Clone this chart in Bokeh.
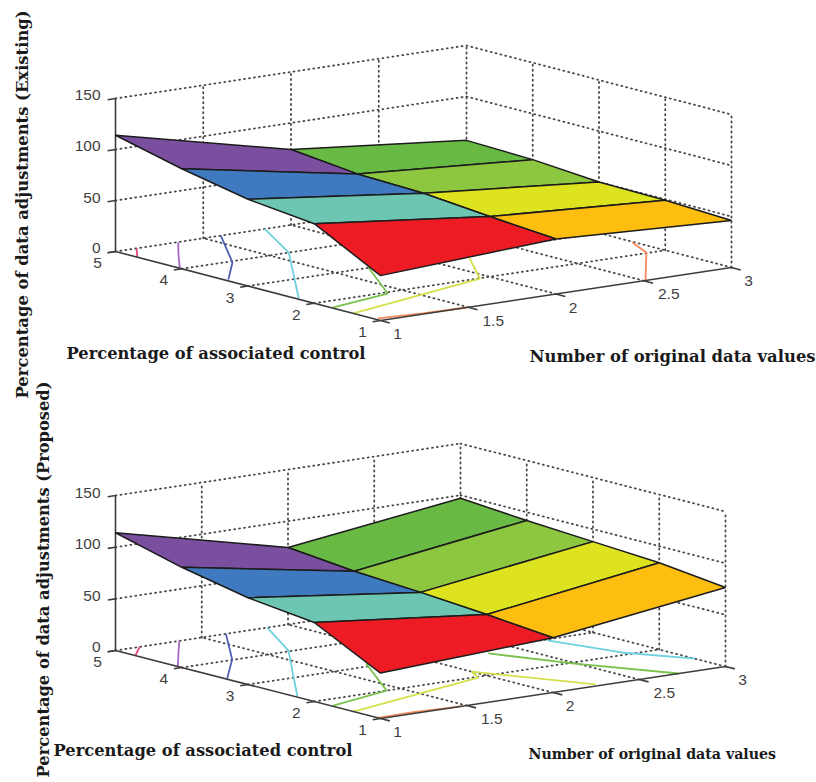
from bokeh.plotting import figure
from bokeh.models import Range1d
from bokeh.core.properties import value
from bokeh.embed import file_html
from bokeh.resources import INLINE

# ---------- data ----------
x_nodes = [1, 2, 3]
y_nodes = [5, 4, 3, 2, 1]
z_ticks = [0, 50, 100, 150]
x_ticks = [1, 1.5, 2, 2.5, 3]
y_ticks = [1, 2, 3, 4, 5]
x_tick_labels = ["1", "1.5", "2", "2.5", "3"]
y_tick_labels = ["1", "2", "3", "4", "5"]
z_tick_labels = ["0", "50", "100", "150"]

# rows follow y_nodes, columns follow x_nodes
z_existing = [
    [114, 74, 57],
    [98, 67, 55],
    [85, 65, 50],
    [78, 59, 49],
    [44, 54, 46],
]
z_proposed = [
    [114, 74.5, 97],
    [97, 68, 92],
    [84, 64, 88],
    [76.5, 59, 84],
    [44, 53, 76.5],
]
# band colours per y band (y=5-4 ... y=2-1), for x 1-2 and x 2-3
colors_x12 = ["#7B4FA0", "#3F79BF", "#6DC6B2", "#ED1C24"]
colors_x23 = ["#69BA44", "#8DC63F", "#DDE31E", "#FDBE10"]

PINK, PURPLE, BLUE, CYAN, GREEN, YELLOW, ORANGE = (
    "#E8417E", "#A566C8", "#4F5FB8", "#6FD0E0", "#7CC04F", "#D3E04A", "#F58A5A")

contours_existing = [
    (PINK, [1, 1.12], [4.67, 5]),
    (PURPLE, [1, 1.2, 1.35], [4.03, 4.58, 4.98]),
    (BLUE, [1.02, 1.27, 1.6], [3.35, 3.95, 5]),
    (CYAN, [1.01, 1.61, 1.85], [2.26, 4, 5]),
    (GREEN, [1.01, 1.4, 1.69], [1.74, 1.95, 3.01]),
    (YELLOW, [1, 1.94, 2.18], [1.41, 1.99, 2.78]),
    (ORANGE, [1.02, 1.25, 1.49], [1.09, 1.03, 1]),
    (ORANGE, [2.51, 2.9, 2.99], [1, 2.02, 2.47]),
]
contours_proposed = [
    (PINK, [1, 1.14], [4.7, 5]),
    (PURPLE, [1, 1.2, 1.37], [4.06, 4.57, 5]),
    (BLUE, [1.01, 1.3, 1.64], [3.34, 4.02, 5]),
    (CYAN, [1.01, 1.63, 1.88], [2.28, 4.03, 5]),
    (GREEN, [1.01, 1.42, 1.73], [1.74, 2, 3.12]),
    (YELLOW, [1, 1.94, 2, 2.27], [1.41, 1.97, 2.23, 1.06]),
    (ORANGE, [1, 1.2, 1.48], [1.04, 1.05, 1]),
    (CYAN, [2.72, 2.82, 3], [2.96, 2.1, 1.46]),
    (GREEN, [2.32, 2.49, 2.73], [2.81, 1.95, 1]),
]

# ---------- view geometry (orthographic projection of each panel) ----------
top_view = dict(o=(380, 320), ex=(351, -53), ey=(-265, -69), kz=1.02,
                zlab=[(100, 247), (100, 197), (100, 145), (100, 94)])
bot_view = dict(o=(380, 718), ex=(345, -52), ey=(-265, -68), kz=1.033,
                zlab=[(100, 646), (100, 595), (100, 543), (100, 492)])


def proj(v, x, y, z=0):
    u, w = (x - 1) / 2, (y - 1) / 4
    return (v["o"][0] + u * v["ex"][0] + w * v["ey"][0],
            v["o"][1] + u * v["ex"][1] + w * v["ey"][1] - z * v["kz"])


p = figure(width=816, height=782, x_range=Range1d(0, 816), y_range=Range1d(782, 0),
           x_axis_type=None, y_axis_type=None, toolbar_location=None,
           output_backend="svg", min_border=0, outline_line_color=None,
           background_fill_color="white")
p.grid.visible = False

AX = "#3c3c3c"
DOT = "#484848"
TICK_FONT = value("Liberation Sans")
TITLE_FONT = value("DejaVu Serif")


def seg(v, a, b, **kw):
    pa, pb = proj(v, *a), proj(v, *b)
    p.line([pa[0], pb[0]], [pa[1], pb[1]], **kw)


def draw_panel(v, zz, contours):
    dots = dict(line_color=DOT, line_dash="1 4", line_width=1.8, line_cap="round")
    # floor grid
    for x in x_ticks[1:]:
        seg(v, (x, 1, 0), (x, 5, 0), **dots)
    for y in y_ticks[1:]:
        seg(v, (1, y, 0), (3, y, 0), **dots)
    # back walls
    for x in x_ticks[1:]:
        seg(v, (x, 5, 0), (x, 5, 150), **dots)
    for y in y_ticks[:-1]:
        seg(v, (3, y, 0), (3, y, 150), **dots)
    for z in z_ticks[1:]:
        seg(v, (1, 5, z), (3, 5, z), **dots)
        seg(v, (3, 5, z), (3, 1, z), **dots)
    # contour lines on the floor
    for col, xs, ys in contours:
        pts = [proj(v, a, b) for a, b in zip(xs, ys)]
        p.line([q[0] for q in pts], [q[1] for q in pts], line_color=col, line_width=1.8)
    # axes
    ax = dict(line_color=AX, line_width=1.6)
    seg(v, (1, 5, 0), (1, 5, 150), **ax)
    seg(v, (1, 5, 0), (1, 1, 0), **ax)
    seg(v, (1, 1, 0), (3, 1, 0), **ax)
    for z in z_ticks:
        seg(v, (1, 5, z), (0.955, 5, z), **ax)
    for y in y_ticks:
        seg(v, (1, y, 0), (0.955, y, 0), **ax)
    for x in x_ticks:
        seg(v, (x, 1, 0), (x, 0.86, 0), **ax)
    # surface, back to front
    for j in range(len(y_nodes) - 1):
        for i in (1, 0):
            corners = [(i, j), (i + 1, j), (i + 1, j + 1), (i, j + 1)]
            pts = [proj(v, x_nodes[a], y_nodes[b], zz[b][a]) for a, b in corners]
            p.patch([q[0] for q in pts], [q[1] for q in pts],
                    fill_color=(colors_x12 if i == 0 else colors_x23)[j],
                    line_color="#1c1c1c", line_width=1.5)
    # tick labels
    tick_txt = dict(text_font=TICK_FONT, text_font_size="15.5px", text_color="#3f3f3f",
                    text_baseline="middle")
    for lab, (sx, sy) in zip(z_tick_labels, v["zlab"]):
        p.text([sx], [sy], text=[lab], text_align="right", **tick_txt)
    for y, lab in zip(y_ticks, y_tick_labels):
        sx, sy = proj(v, 1, y)
        p.text([sx - 18], [sy + 11.5], text=[lab], text_align="center", **tick_txt)
    for x, lab in zip(x_ticks, x_tick_labels):
        sx, sy = proj(v, x, 1)
        dx = 25 if len(lab) > 1 else 17
        p.text([sx + dx], [sy + 13.5], text=[lab], text_align="center", **tick_txt)


draw_panel(top_view, z_existing, contours_existing)
draw_panel(bot_view, z_proposed, contours_proposed)

# ---------- axis titles ----------
def title(txt, sx, sy, size, angle=0, align="left"):
    p.text([sx], [sy], text=[txt], text_font=TITLE_FONT, text_font_style="bold",
           text_font_size=size, text_color="#1a1a1a", text_baseline="middle",
           text_align=align, angle=angle)


title("Percentage of associated control", 66, 353, "16.3px")
title("Number of original data values", 529, 356, "16.4px")
title("Percentage of data adjustments (Existing)", 22, 204, "16.4px", angle=1.5708, align="center")
title("Percentage of associated control", 53, 750, "16.3px")
title("Number of original data values", 528, 753, "14.2px")
title("Percentage of data adjustments (Proposed)", 43, 579, "16.3px", angle=1.5708, align="center")

open("out.html", "w").write(file_html(p, INLINE))
